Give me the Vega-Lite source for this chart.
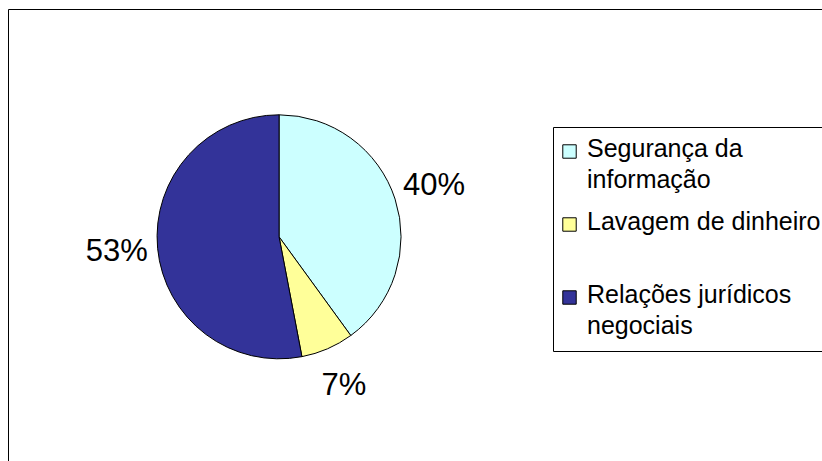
{
  "$schema": "https://vega.github.io/schema/vega-lite/v6.json",
  "autosize": "none",
  "width": 814,
  "height": 452,
  "padding": {"left": 8, "top": 9, "right": 0, "bottom": 0},
  "background": "white",
  "view": {"stroke": "#000000", "strokeWidth": 1, "fill": "white"},
  "config": {
    "view": {"stroke": "#000000", "strokeWidth": 1, "fill": "white"},
    "font": "Liberation Sans"
  },
  "data": {
    "values": [
      {"category": "Segurança da informação", "share": 0.40, "order": 1},
      {"category": "Lavagem de dinheiro", "share": 0.07, "order": 2},
      {"category": "Relações jurídicos negociais", "share": 0.53, "order": 3}
    ]
  },
  "encoding": {
    "theta": {"field": "share", "type": "quantitative", "stack": true},
    "order": {"field": "order", "type": "quantitative"},
    "color": {
      "field": "category",
      "type": "nominal",
      "scale": {
        "domain": ["Segurança da informação", "Lavagem de dinheiro", "Relações jurídicos negociais"],
        "range": ["#CCFFFF", "#FFFF99", "#333399"]
      },
      "legend": {
        "title": null,
        "orient": "none",
        "legendX": 545,
        "legendY": 118,
        "strokeColor": "#000000",
        "fillColor": "white",
        "padding": 12,
        "symbolType": "square",
        "symbolSize": 180,
        "symbolStrokeColor": "#000000",
        "symbolStrokeWidth": 1,
        "symbolOffset": -8,
        "labelFont": "Liberation Sans",
        "labelFontSize": 25,
        "labelColor": "#000000",
        "labelOffset": 5,
        "labelLimit": 400,
        "labelBaseline": "alphabetic",
        "rowPadding": 16,
        "labelExpr": "datum.label == 'Segurança da informação' ? ['Segurança da', 'informação'] : datum.label == 'Relações jurídicos negociais' ? ['Relações jurídicos', 'negociais'] : [datum.label, '']",
        "encode": {"labels": {"update": {"lineHeight": {"value": 31}, "dy": {"value": 5}}}}
      }
    }
  },
  "layer": [
    {
      "mark": {
        "type": "arc",
        "outerRadius": 122,
        "stroke": "#000000",
        "strokeWidth": 1,
        "x": {"expr": "width * 0.333"},
        "y": {"expr": "height * 0.504"}
      }
    },
    {
      "mark": {
        "type": "text",
        "radius": 163,
        "fontSize": 31,
        "font": "Liberation Sans",
        "color": "#000000",
        "align": "center",
        "baseline": "middle",
        "x": {"expr": "width * 0.333"},
        "y": {"expr": "height * 0.504"}
      },
      "encoding": {
        "text": {"field": "share", "type": "quantitative", "format": ".0%"},
        "color": {"value": "#000000"}
      }
    }
  ]
}
